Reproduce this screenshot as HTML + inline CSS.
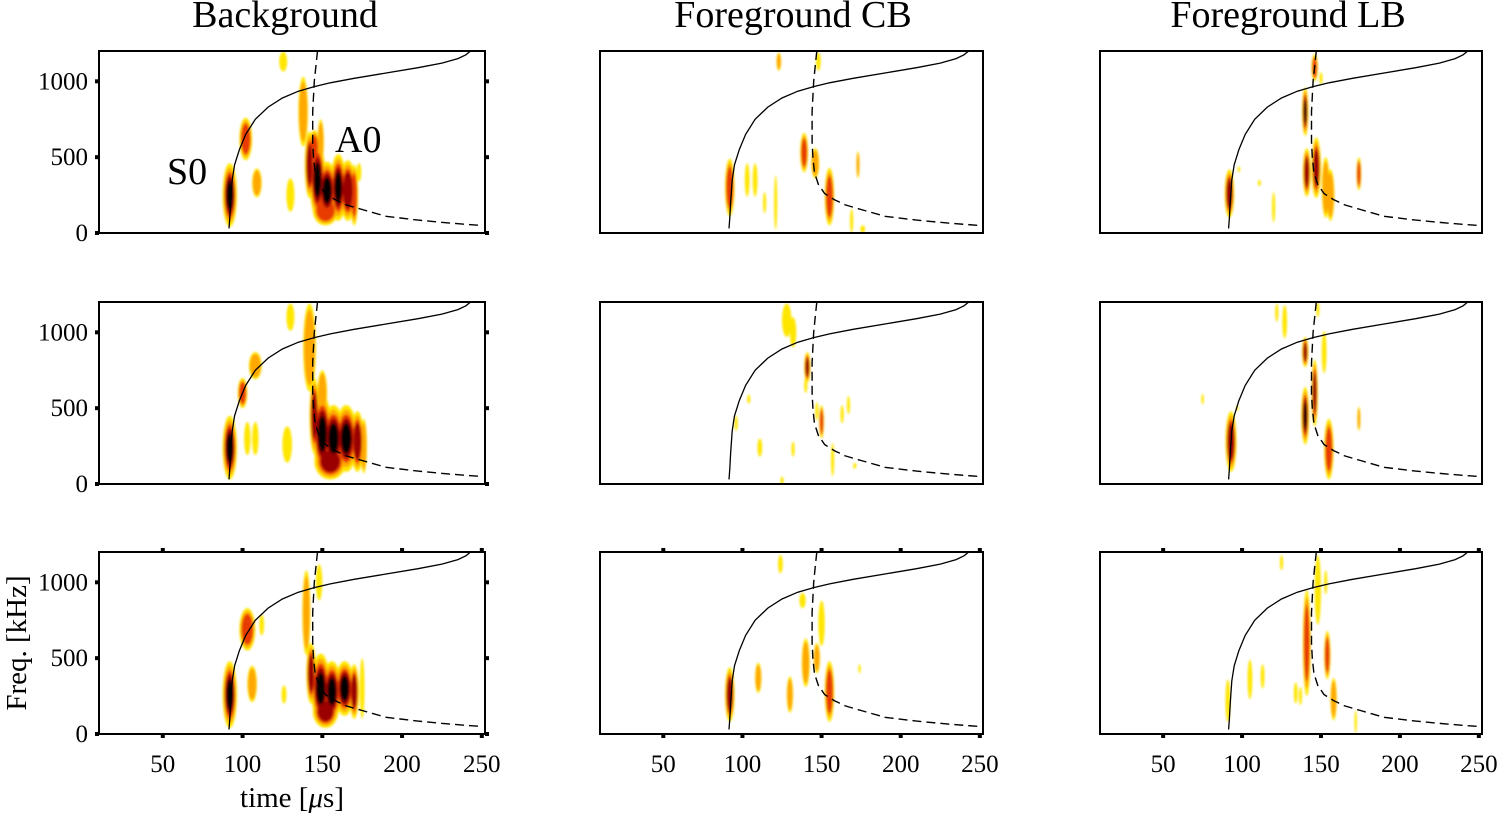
<!DOCTYPE html>
<html><head><meta charset="utf-8"><style>
html,body{margin:0;padding:0;background:#fff}
svg{display:block}
text{font-family:"Liberation Serif",serif;fill:#000}
</style></head><body>
<svg id="fig" width="1501" height="814" viewBox="0 0 1501 814" xmlns="http://www.w3.org/2000/svg">
<defs>
<filter id="soft" x="-20%" y="-20%" width="140%" height="140%"><feGaussianBlur stdDeviation="1.1"/></filter>
</defs>
<text x="285" y="27" font-size="38" text-anchor="middle">Background</text>
<text x="793" y="27" font-size="38" text-anchor="middle">Foreground CB</text>
<text x="1288" y="27" font-size="38" text-anchor="middle">Foreground LB</text>
<text x="292" y="807" font-size="29" text-anchor="middle">time [<tspan font-style="italic">μ</tspan>s]</text>
<text x="0" y="0" font-size="29" text-anchor="middle" transform="translate(26,643) rotate(-90)">Freq. [kHz]</text>
<text x="167" y="184" font-size="38">S0</text>
<text x="335" y="152" font-size="38">A0</text>
</svg>
<script>
// axis / tick data
const xTicks = [50, 100, 150, 200, 250];
const yTicks = [0, 500, 1000];
const tRange = [10, 252];
const fRange = [0, 1200];
// dispersion curves (time µs, freq kHz)
const s0Time = [91.5,92,92.5,93.5,95,98,102,108,116,125,135,145,155,170,190,210,225,235,240,243];
const s0Freq = [30,100,200,350,450,550,650,750,830,890,935,965,990,1020,1055,1090,1120,1150,1175,1200];
const a0Time = [147,146,145,144.5,144,144,144,144.5,145.5,148,152,158,165,175,190,210,230,249];
const a0Freq = [1200,1100,1000,900,800,700,600,500,400,320,260,220,185,155,110,85,65,50];
// blobs: [time, freq, halfWidthTime, halfHeightFreq, level]
const blobsBgR1 = [[92,250,4.5,210,5],[125.5,1130,2.5,65,1],[102,620,4,140,3],[109,330,3,95,2],[130,250,2.5,110,1],[138,800,3,230,2],[149,600,2,150,2],[142,450,3,220,4],[147,350,5,250,5],[153,280,6,190,5],[160,300,5,220,5],[166,280,5,200,4],[170,250,2.5,200,3],[152,150,8,100,3],[145,560,3,120,3],[173,400,1.5,60,1]];
const blobsBgR2 = [[92,240,4.5,210,5],[100,600,3,100,3],[108,780,4,90,2],[103,300,2,110,1],[108,300,2,110,1],[128,260,3,120,1],[130,1100,2.5,90,1],[142,900,4,290,2],[145,450,3,250,4],[150,330,6,260,5],[157,300,7,220,5],[165,300,7,220,5],[172,280,4,200,4],[176,250,2,180,2],[155,150,10,120,4],[150,600,3,150,2]];
const blobsBgR3 = [[92,260,4.5,220,5],[103,690,5,140,3],[112,720,1.5,70,1],[106,330,3,120,2],[126,260,1.5,60,1],[140,800,2.5,280,2],[148,1000,2,120,1],[143,400,3,200,4],[149,300,6,230,5],[156,280,6,200,5],[164,300,6,180,5],[170,280,3,180,4],[175,300,1.5,200,1],[152,150,8,110,4]];
const blobsCbR1 = [[92,300,3,190,3],[123,1130,1.5,60,2],[103,350,1.5,110,1],[108,350,1.5,110,1],[114,200,1,70,1],[121,200,1,180,1],[139,530,2.5,130,3],[146,460,2.5,100,2],[148,1130,1.5,60,1],[155,240,3,190,3],[169,80,1,80,1],[176,25,1.5,25,1],[173,450,1,90,2]];
const blobsCbR2 = [[128,1080,3,110,1],[132,1000,2,100,1],[141,770,2,100,4],[140,650,1,50,1],[104,560,1,30,1],[96,400,1,50,1],[111,240,1.5,60,1],[132,230,1,50,1],[150,410,1.5,110,3],[147,480,1,60,1],[157,160,1,110,1],[163,460,1,60,1],[167,520,1,60,1],[125,20,1,30,1],[171,120,1,20,1]];
const blobsCbR3 = [[92,260,3,180,4],[110,370,2,100,2],[124,1120,1.5,60,1],[130,260,2,120,2],[138,880,2,50,1],[140,470,2.5,160,2],[150,730,2,150,1],[147,500,2,100,2],[155,280,3,200,3],[174,430,0.8,30,1]];
const blobsLbR1 = [[92,260,3,160,4],[98,420,0.8,20,1],[111,330,1,20,1],[120,170,1,100,1],[140,800,2,160,5],[141,400,2.5,160,4],[146,1090,2,90,3],[147,430,3,200,4],[153,300,2.5,200,2],[156,250,2.5,170,2],[174,390,1.5,110,3],[150,1020,1,40,1]];
const blobsLbR2 = [[93,280,3.5,200,4],[75,560,0.8,35,1],[97,500,0.7,20,1],[122,1130,1,60,1],[127,1070,1.5,110,1],[140,870,2,100,4],[140,450,2.5,190,5],[146,600,2,220,4],[152,870,1.5,140,1],[155,230,3,200,3],[174,430,1,80,2],[148,1150,1,50,1]];
const blobsLbR3 = [[91,220,1.5,140,1],[105,360,1.5,130,1],[113,380,1.2,80,1],[125,1130,1,50,1],[134,270,1.2,70,1],[137,250,1,60,1],[141,600,2.5,350,3],[148,950,2,230,1],[153,1000,1,80,1],[154,520,2,160,3],[158,230,2,140,2],[172,80,0.8,75,1]];

const NS = "http://www.w3.org/2000/svg";
const svg = document.getElementById('fig');
const cols = [{L:99,W:386,name:'background'},{L:600,W:383,name:'foreground-cb'},{L:1100,W:382,name:'foreground-lb'}];
const rows = [{T:51,H:182},{T:302,H:182},{T:552,H:182}];
const blobSets = [[blobsBgR1,blobsBgR2,blobsBgR3],[blobsCbR1,blobsCbR2,blobsCbR3],[blobsLbR1,blobsLbR2,blobsLbR3]];
const levelColors = ['#ffe600','#ffa800','#e83a00','#9a0000','#000000'];
const levelScale = [1,0.86,0.72,0.6,0.46];

function mk(tag, attrs){const e=document.createElementNS(NS,tag);for(const k in attrs)e.setAttribute(k,attrs[k]);return e;}

cols.forEach((c,ci)=>{
  rows.forEach((r,ri)=>{
    const xs = t => c.L + (t - tRange[0])/(tRange[1]-tRange[0])*c.W;
    const ys = f => r.T + r.H - (f - fRange[0])/(fRange[1]-fRange[0])*r.H;
    const g = mk('g',{});
    
    
    svg.appendChild(g);
    const cid='clip'+ci+ri;
    const cp = mk('clipPath',{id:cid});
    cp.appendChild(mk('rect',{x:c.L,y:r.T,width:c.W,height:r.H}));
    g.appendChild(cp);
    const bg = mk('g',{'clip-path':'url(#'+cid+')',filter:'url(#soft)'});
    
    
    g.appendChild(bg);
    const blobs = blobSets[ci][ri];
    for(let k=0;k<5;k++){
      blobs.forEach(b=>{
        const [t,f,dt,df,lv]=b;
        if(k>=lv) return;
        const e = mk('ellipse',{cx:xs(t),cy:ys(f),rx:Math.max(0.8,dt*c.W/(tRange[1]-tRange[0])*levelScale[k]),ry:df*r.H/(fRange[1]-fRange[0])*levelScale[k],fill:levelColors[k]});
        
        
        bg.appendChild(e);
      });
    }
    const cg = mk('g',{'clip-path':'url(#'+cid+')'});
    g.appendChild(cg);
    const s0 = mk('path',{d:s0Time.map((t,i)=>(i?'L':'M')+xs(t).toFixed(1)+' '+ys(s0Freq[i]).toFixed(1)).join(''),fill:'none',stroke:'#000','stroke-width':1.3});
    
    
    cg.appendChild(s0);
    const a0 = mk('path',{d:a0Time.map((t,i)=>(i?'L':'M')+xs(t).toFixed(1)+' '+ys(a0Freq[i]).toFixed(1)).join(''),fill:'none',stroke:'#000','stroke-width':1.4,'stroke-dasharray':'9 5'});
    
    
    cg.appendChild(a0);
    const fr = mk('rect',{x:c.L,y:r.T,width:c.W,height:r.H,fill:'none',stroke:'#000','stroke-width':2});
    
    
    g.appendChild(fr);
    if(ci===0){
      yTicks.forEach(v=>{
        const y=ys(v);
        g.appendChild(mk('rect',{x:c.L-4,y:y-2,width:4,height:4,fill:'#000'}));
        g.appendChild(mk('rect',{x:c.L+c.W,y:y-2,width:4,height:4,fill:'#000'}));
        const tx = mk('text',{x:88,y:y+8,'font-size':25,'text-anchor':'end'});
        tx.textContent=v;
        
        
        g.appendChild(tx);
      });
    }
    if(ri===2){
      xTicks.forEach(v=>{
        const x=xs(v);
        g.appendChild(mk('rect',{x:x-2,y:r.T-4,width:4,height:4,fill:'#000'}));
        g.appendChild(mk('rect',{x:x-2,y:r.T+r.H,width:4,height:4,fill:'#000'}));
        const tx = mk('text',{x:x,y:772,'font-size':25,'text-anchor':'middle'});
        tx.textContent=v;
        
        
        g.appendChild(tx);
      });
    }
  });
});
</script>
</body></html>
